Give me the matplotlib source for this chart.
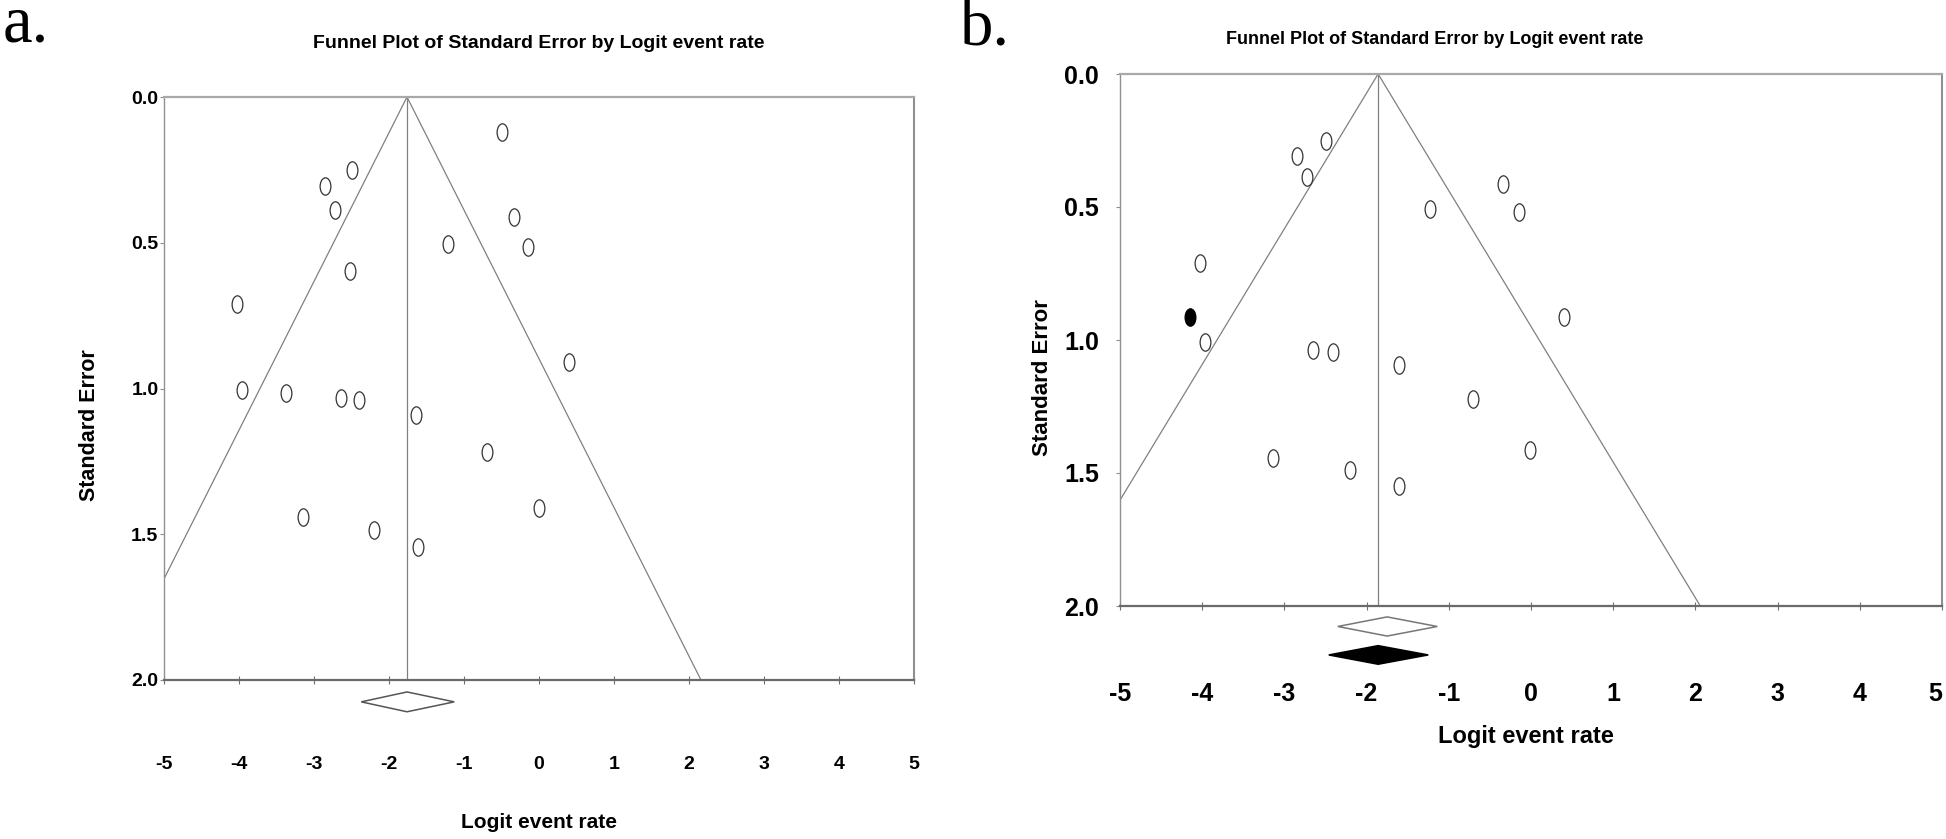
import numpy as np
import matplotlib
matplotlib.use("Agg")
import matplotlib.pyplot as plt
from matplotlib.path import Path
from matplotlib.transforms import Affine2D

# ---- data ----
# panel a: observed studies (logit event rate, standard error)
logit_a = [-0.49, -2.49, -2.86, -2.72, -0.34, -1.22, -0.15, -2.52, -4.03, 0.40,
           -3.96, -3.38, -2.64, -2.40, -1.64, -0.70, 0.00, -3.14, -2.20, -1.61]
se_a = [0.119, 0.250, 0.305, 0.386, 0.410, 0.506, 0.514, 0.597, 0.709, 0.909,
        1.005, 1.014, 1.031, 1.040, 1.090, 1.219, 1.409, 1.440, 1.486, 1.545]
mean_a = -1.76
ci_a = (-2.37, -1.13)

# panel b: observed studies plus one imputed (filled) study
logit_b = [-2.49, -2.85, -2.72, -0.34, -1.23, -0.15, -4.03, 0.40, -3.96,
           -2.65, -2.41, -1.61, -0.70, -0.01, -3.14, -2.20, -1.61]
se_b = [0.252, 0.309, 0.388, 0.412, 0.507, 0.517, 0.710, 0.912, 1.006,
        1.038, 1.044, 1.095, 1.223, 1.412, 1.444, 1.490, 1.547]
imputed_logit_b = [-4.15]
imputed_se_b = [0.914]
mean_b_obs = -1.75
ci_b_obs = (-2.35, -1.14)
mean_b_adj = -1.86
ci_b_adj = (-2.46, -1.25)

xticks = [-5, -4, -3, -2, -1, 0, 1, 2, 3, 4, 5]
yticks = [0.0, 0.5, 1.0, 1.5, 2.0]

plt.rcParams['axes.unicode_minus'] = False
sans = 'Liberation Sans'
W, H = 1946, 839

fig = plt.figure(figsize=(W / 100, H / 100), dpi=100)

# slightly tall open ellipse marker like the original
ell = Path.unit_circle().transformed(Affine2D().scale(0.62, 1.0))


def funnel(ax, xs, ses, centre, tick_size, tick_pad_y):
    se_line = np.array([0.0, 2.0])
    ax.plot(centre - 1.96 * se_line, se_line, color='#808080', lw=0.9)
    ax.plot(centre + 1.96 * se_line, se_line, color='#808080', lw=0.9)
    ax.plot([centre, centre], [0, 2], color='#808080', lw=0.9)
    ax.scatter(xs, ses, marker=ell, s=12.5 ** 2, facecolors='white',
               edgecolors='#333333', linewidths=0.9, zorder=3)
    ax.set_xlim(-5, 5)
    ax.set_ylim(2, 0)
    ax.set_xticks(xticks)
    ax.set_xticklabels([str(t) for t in xticks])
    ax.set_yticks(yticks)
    ax.set_yticklabels(['%.1f' % t for t in yticks])
    for lab in ax.get_xticklabels() + ax.get_yticklabels():
        lab.set_family(sans)
        lab.set_fontweight('bold')
        lab.set_fontsize(tick_size)
    ax.tick_params(axis='x', direction='inout', length=6, width=0.8,
                   color='#707070', pad=52)
    ax.tick_params(axis='y', direction='out', length=3, width=0.8,
                   color='#909090', pad=tick_pad_y)
    ax.spines['top'].set_color('#a8a8a8')
    ax.spines['top'].set_linewidth(1.6)
    ax.spines['right'].set_color('#909090')
    ax.spines['right'].set_linewidth(1.5)
    ax.spines['left'].set_color('#909090')
    ax.spines['left'].set_linewidth(1.0)
    ax.spines['bottom'].set_color('#6a6a6a')
    ax.spines['bottom'].set_linewidth(1.6)


def diamond(ax, lo, centre, hi, y, h, face, edge):
    ax.fill([lo, centre, hi, centre], [y, y - h, y, y + h], facecolor=face,
            edgecolor=edge, lw=1.1, clip_on=False, zorder=4)


# ---------- panel a ----------
ax_a = fig.add_axes([164 / W, 1 - 680 / H, 750 / W, 583 / H])
funnel(ax_a, logit_a, se_a, mean_a, 14, 1)
diamond(ax_a, ci_a[0], mean_a, ci_a[1], 2.075, 0.034, 'white', '#555555')
ax_a.set_ylabel('Standard Error', family=sans, fontweight='bold', fontsize=15.5)
ax_a.yaxis.set_label_coords(-0.085, 0.437)
ax_a.set_xlabel('Logit event rate', family=sans, fontweight='bold', fontsize=15)
ax_a.xaxis.set_label_coords(0.5, -0.228)

# ---------- panel b ----------
ax_b = fig.add_axes([1120 / W, 1 - 606 / H, 822 / W, 532 / H])
funnel(ax_b, logit_b, se_b, mean_b_adj, 18, 12)
ax_b.get_xticklabels()[-1].set_horizontalalignment('right')
ax_b.scatter(imputed_logit_b, imputed_se_b, marker=ell, s=12.5 ** 2,
             facecolors='black', edgecolors='black', linewidths=0.9, zorder=3)
diamond(ax_b, ci_b_obs[0], mean_b_obs, ci_b_obs[1], 2.077, 0.036, 'white', '#777777')
diamond(ax_b, ci_b_adj[0], mean_b_adj, ci_b_adj[1], 2.184, 0.035, 'black', 'black')
ax_b.set_ylabel('Standard Error', family=sans, fontweight='bold', fontsize=16)
ax_b.yaxis.set_label_coords(-0.0815, 0.43)
ax_b.set_xlabel('Logit event rate', family=sans, fontweight='bold', fontsize=17)
ax_b.xaxis.set_label_coords(0.494, -0.224)

# titles and panel letters
title = 'Funnel Plot of Standard Error by Logit event rate'
fig.text(539 / W, 1 - 43 / H, title, ha='center', va='center', family=sans,
         fontweight='bold', fontsize=14)
fig.text(1435 / W, 1 - 40 / H, title, ha='center', va='center', family=sans,
         fontweight='bold', fontsize=13)
fig.text(3 / W, 1 - 42 / H, 'a.', ha='left', va='baseline',
         family='Liberation Serif', fontsize=48)
fig.text(960 / W, 1 - 46 / H, 'b.', ha='left', va='baseline',
         family='Liberation Serif', fontsize=48)

fig.savefig('out.png', dpi=100)
